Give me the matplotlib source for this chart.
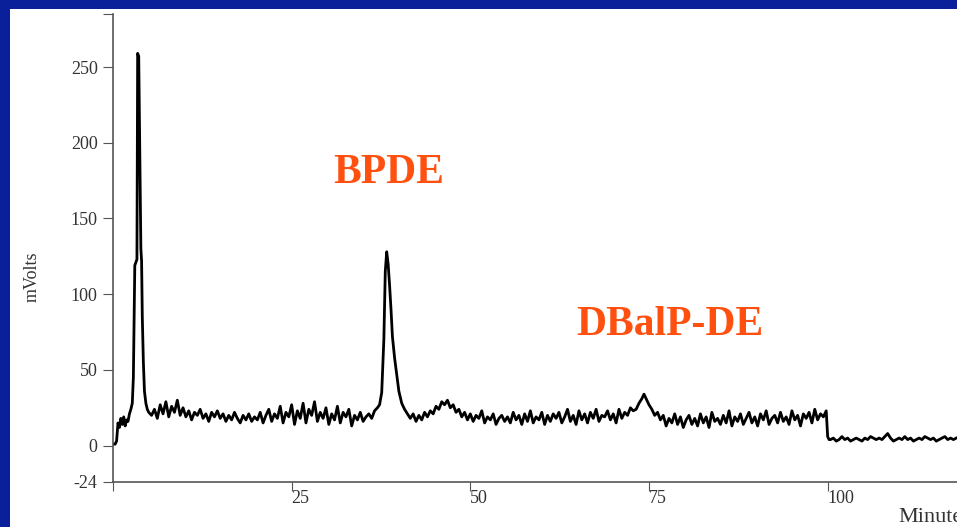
import numpy as np
import matplotlib.pyplot as plt
from matplotlib.patches import Rectangle

# chromatogram, mVolts vs minutes
t_start = [0, 0.3, 0.5, 0.7, 0.9, 1.1, 1.3, 1.5, 1.7, 1.9, 2.1, 2.3, 2.5, 2.7]
v_start = [1, 1, 3, 15, 12, 18, 14, 19, 13, 17, 16, 21, 24, 28]

t_peak1 = [2.85, 2.95, 3.05, 3.2, 3.35, 3.45, 3.6, 3.75, 3.9, 4.0, 4.1, 4.25, 4.4, 4.6, 4.8, 5.0]
v_peak1 = [45, 80, 119, 121, 123, 259, 257, 195, 130, 122, 85, 55, 36, 28, 24, 22]

# 5.4 .. 37.0 every 0.4 min
v_base1 = [20, 24, 18, 27, 21, 29, 19, 26, 22, 30, 20, 25,
           19, 23, 17, 22, 20, 24, 18, 21, 16, 22, 19, 23,
           18, 21, 16, 20, 17, 22, 18, 15, 20, 17, 21, 16, 19,
           17, 22, 15, 20, 24, 16, 21, 18, 26, 15, 22, 19,
           27, 14, 23, 18, 28, 15, 24, 20, 29, 16, 22, 18, 25,
           14, 21, 17, 26, 15, 22, 19, 24, 13, 20, 17, 22, 16, 19, 21, 18, 23, 25]

t_peak2 = [37.3, 37.6, 37.9, 38.1, 38.3, 38.5, 38.7, 38.9, 39.1, 39.4, 39.7, 40.0, 40.4, 40.8, 41.2]
v_peak2 = [27, 35, 70, 115, 128, 120, 106, 90, 72, 58, 47, 36, 28, 24, 21]

# 41.6 .. 72.8 every 0.4 min
v_base2 = [18, 21, 16, 20, 17, 22, 19, 23, 21, 26, 24, 29, 27, 30, 25, 27, 22, 24,
           19, 22, 17, 21, 16, 20, 18, 23, 15, 19, 17, 21, 14, 18, 20, 16, 19,
           15, 22, 17, 20, 14, 21, 16, 23, 15, 19, 17, 22, 14, 20, 16, 21, 18,
           22, 15, 19, 24, 16, 20, 14, 23, 17, 21, 15, 22, 18, 24, 16, 20, 19,
           23, 17, 21, 15, 24, 18, 22, 20, 25, 23]

t_peak3 = [73.2, 73.6, 74.0, 74.3, 74.6, 75.0, 75.4, 75.8]
v_peak3 = [24, 28, 31, 34, 31, 27, 24, 20]

# 76.2 .. 99.8 every 0.4 min
v_base3 = [22, 17, 20, 13, 18, 15, 21, 14, 19, 12, 17,
           20, 14, 18, 13, 21, 15, 19, 12, 22, 16, 18,
           14, 20, 15, 23, 13, 19, 16, 21, 14, 18, 22,
           15, 19, 13, 21, 17, 23, 14, 18, 20, 15, 22,
           16, 19, 14, 23, 17, 20, 13, 21, 18, 22, 15, 24, 17, 21, 19, 23]

t_drop = [100.0, 100.2]
v_drop = [6, 4]

# 100.4 .. 118.0 every 0.4 min
v_tail = [4, 5, 3, 4, 6, 4, 5, 3, 4, 5,
          4, 3, 5, 4, 6, 5, 4, 5, 4, 6,
          8, 5, 3, 4, 5, 4, 6, 4, 5, 3,
          4, 5, 4, 6, 5, 4, 5, 3, 4, 5,
          6, 4, 5, 4, 5]

y_ticks = [-24, 0, 50, 100, 150, 200, 250]
x_ticks = [0, 25, 50, 75, 100]
x_labels = ['', '25', '50', '75', '100']

t = np.concatenate([t_start, t_peak1, np.linspace(5.4, 37.0, len(v_base1)), t_peak2,
                    np.linspace(41.6, 72.8, len(v_base2)), t_peak3,
                    np.linspace(76.2, 99.8, len(v_base3)), t_drop,
                    np.linspace(100.4, 118.0, len(v_tail))])
v = np.concatenate([v_start, v_peak1, v_base1, v_peak2, v_base2, v_peak3,
                    v_base3, v_drop, v_tail])

fig = plt.figure(figsize=(9.57, 5.27), dpi=100)
fig.patch.set_facecolor('#0a209a')
fig.patches.append(Rectangle((10 / 957, 0), 1, 518 / 527, transform=fig.transFigure,
                             facecolor='white', edgecolor='none', zorder=-5))

ax = fig.add_axes([113 / 957, 45 / 527, 844 / 957, 468 / 527])
ax.set_zorder(3)
ax.patch.set_alpha(0)
ax.plot(t, v, color='black', lw=2.0)
ax.set_xlim(0, 118.1)
ax.set_ylim(-24, 285)

for s in ['top', 'right']:
    ax.spines[s].set_visible(False)
for s in ['left', 'bottom']:
    ax.spines[s].set_color('#555555')
    ax.spines[s].set_linewidth(1.2)

ax.set_yticks(y_ticks + [285])
ax.set_yticklabels([str(y) for y in y_ticks] + [''], family='Liberation Serif', fontsize=13)
ax.set_xticks(x_ticks)
ax.set_xticklabels(x_labels, family='Liberation Serif', fontsize=13, ha='left')
ax.tick_params(axis='y', length=7, pad=4, color='#555555', labelcolor='#333333')
ax.tick_params(axis='x', length=6.5, pad=-1, color='#555555', labelcolor='#333333')

fig.text(32 / 957, 1 - 277 / 527, 'mVolts', rotation=90, ha='center', va='center',
         family='Liberation Serif', fontsize=13, color='#333333')
fig.text(898 / 957, 1 - 517 / 527, 'Minutes', ha='left', va='center',
         family='Liberation Serif', fontsize=16, color='#333333')

ax.text(38.6, 180, 'BPDE', ha='center', va='center', family='Liberation Serif',
        fontweight='bold', fontsize=30, color='#ff5010')
ax.text(77.9, 79.5, 'DBalP-DE', ha='center', va='center', family='Liberation Serif',
        fontweight='bold', fontsize=30, color='#ff5010')

fig.savefig('out.png', dpi=100, facecolor=fig.get_facecolor())
